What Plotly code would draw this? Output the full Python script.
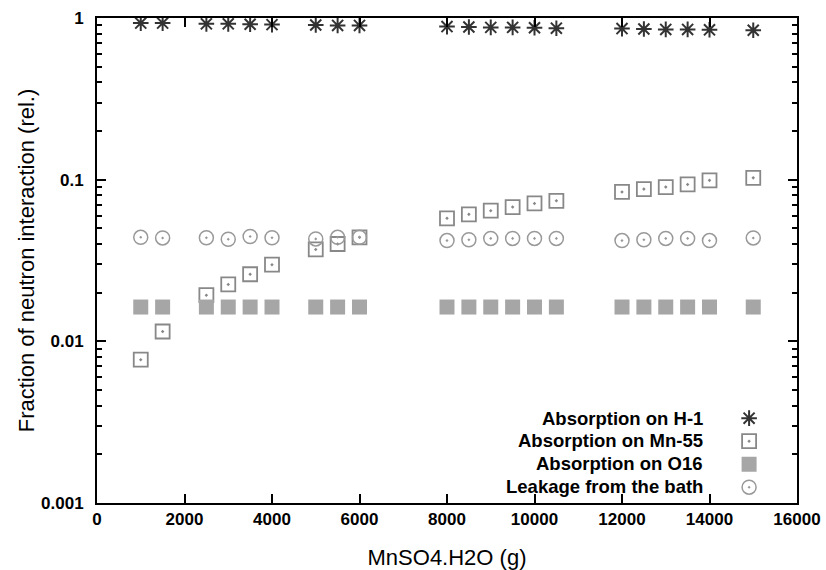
import plotly.graph_objects as go

mass_g = [1000, 1500, 2500, 3000, 3500, 4000, 5000, 5500, 6000,
          8000, 8500, 9000, 9500, 10000, 10500,
          12000, 12500, 13000, 13500, 14000, 15000]

abs_h1 = [0.93, 0.93, 0.92, 0.92, 0.915, 0.91, 0.905, 0.90, 0.90,
          0.885, 0.88, 0.875, 0.875, 0.87, 0.865,
          0.86, 0.855, 0.85, 0.85, 0.845, 0.84]

abs_mn55 = [0.0077, 0.0115, 0.0193, 0.0225, 0.026, 0.0298, 0.037, 0.040, 0.044,
            0.0577, 0.061, 0.0643, 0.0677, 0.0713, 0.074,
            0.084, 0.0874, 0.090, 0.0934, 0.099, 0.1026]

abs_o16 = [0.0163] * 21

leakage = [0.044, 0.0436, 0.0437, 0.0428, 0.0445, 0.0437, 0.043, 0.044, 0.044,
           0.042, 0.0425, 0.0433, 0.0433, 0.0433, 0.0433,
           0.042, 0.0425, 0.0433, 0.0433, 0.042, 0.0436]

series_names = ["Absorption on H-1", "Absorption on Mn-55",
                "Absorption on O16", "Leakage from the bath"]

x_tick_vals = [0, 2000, 4000, 6000, 8000, 10000, 12000, 14000, 16000]
x_tick_text = ["0", "2000", "4000", "6000", "8000", "10000", "12000", "14000", "16000"]
y_tick_vals = [0.001, 0.01, 0.1, 1]
y_tick_text = ["0.001", "0.01", "0.1", "1"]

fig = go.Figure()

fig.add_trace(go.Scatter(
    x=mass_g, y=abs_h1, mode="markers", name=" ",
    marker=dict(symbol="asterisk-open", size=13, color="#333333",
                line=dict(color="#333333", width=2)),
    hovertext=series_names[0]))
fig.add_trace(go.Scatter(
    x=mass_g, y=abs_mn55, mode="markers", name=" ",
    marker=dict(symbol="square-open-dot", size=14, color="#888888",
                line=dict(color="#888888", width=1.8)),
    hovertext=series_names[1]))
fig.add_trace(go.Scatter(
    x=mass_g, y=abs_o16, mode="markers", name=" ",
    marker=dict(symbol="square", size=15, color="#a6a6a6",
                line=dict(width=0)),
    hovertext=series_names[2]))
fig.add_trace(go.Scatter(
    x=mass_g, y=leakage, mode="markers", name=" ",
    marker=dict(symbol="circle-open-dot", size=14, color="#999999",
                line=dict(color="#999999", width=1.5)),
    hovertext=series_names[3]))

# legend text (right aligned, symbols to the right as in the original)
legend_y = [0.175, 0.128, 0.082, 0.035]
for name, yy in zip(series_names, legend_y):
    fig.add_annotation(x=0.869, y=yy, xref="paper", yref="paper",
                       text=name, showarrow=False, xanchor="right", yanchor="middle",
                       font=dict(family="Liberation Sans", size=18.5, color="black", weight=700))

tickfont = dict(family="Liberation Sans", size=17, color="black", weight=700)
titlefont = dict(family="Liberation Sans", size=22, color="black")

fig.update_layout(
    width=826, height=570,
    margin=dict(l=97, r=29, t=18, b=67),
    paper_bgcolor="white", plot_bgcolor="white",
    showlegend=True,
    legend=dict(x=0.903, y=0.209, xanchor="left", yanchor="top",
                bgcolor="rgba(0,0,0,0)", font=dict(size=15.4),
                itemwidth=30, tracegroupgap=0),
    xaxis=dict(range=[0, 16000], tickvals=x_tick_vals, ticktext=x_tick_text,
               ticks="inside", ticklen=9, tickwidth=1.5, tickcolor="black",
               showline=True, linewidth=2, linecolor="black", mirror="allticks",
               showgrid=False, zeroline=False, tickfont=tickfont, automargin=False,
               title=dict(text="MnSO4.H2O (g)", font=titlefont, standoff=23)),
    yaxis=dict(type="log", range=[-3, 0], tickvals=y_tick_vals, ticktext=y_tick_text,
               ticks="inside", ticklen=9, tickwidth=1.5, tickcolor="black",
               showline=True, linewidth=2, linecolor="black", mirror="allticks",
               showgrid=False, zeroline=False, tickfont=tickfont, ticklabelstandoff=8,
               automargin=False,
               minor=dict(ticks="inside", ticklen=5, tickwidth=1.5, tickcolor="black",
                          dtick="D1", showgrid=False),
               title=dict(text="Fraction of neutron interaction (rel.)", font=titlefont,
                          standoff=0)),
)

fig.write_html("out.html", config={"displayModeBar": False},
               post_script="document.body.style.margin='0';document.body.style.overflow='hidden';")
